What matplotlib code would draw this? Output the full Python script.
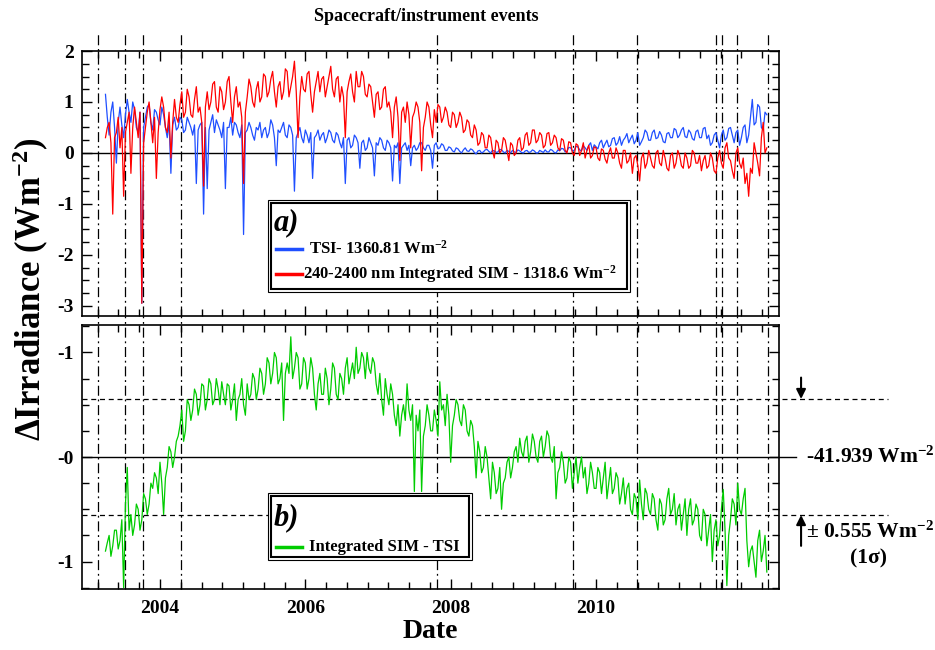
import numpy as np
import matplotlib
matplotlib.use("Agg")
import matplotlib.pyplot as plt
import matplotlib.transforms as mtransforms
from matplotlib.patches import Rectangle
from matplotlib.ticker import MultipleLocator, FixedLocator, FixedFormatter

plt.rcParams['font.family'] = ['Liberation Serif', 'DejaVu Serif']
plt.rcParams['font.weight'] = 'bold'
plt.rcParams['axes.unicode_minus'] = False
plt.rcParams['mathtext.fontset'] = 'custom'
plt.rcParams['mathtext.rm'] = 'Liberation Serif:bold'
plt.rcParams['mathtext.it'] = 'Liberation Serif:bold:italic'
plt.rcParams['mathtext.bf'] = 'Liberation Serif:bold'

# sampling of the series (decimal years)
t_start = 2003.25
t_step = 0.025

# TSI - 1360.81 W/m2
tsi = [1.15, 0.7, 0.35, 0.8, 1.0, 0.5, -0.2, 0.6, 0.9, 0.55, 0.3, 0.75, 1.05, 0.8, 0.6, 1.0, 0.85, 0.5, 0.4, 0.8,
       -2.95, 0.5, 0.7, 0.9, 0.95, 0.6, 0.45, 0.85, 0.8, 0.65, 0.55, 0.9, 0.75, 0.5, 0.3, 0.6, -0.4, 0.55, 0.7, 0.45,
       0.5, 0.7, 0.65, 0.4, 0.45, 0.7, 0.6, 0.5, 0.35, 0.55, -0.6, 0.45, 0.55, 0.6, -1.2, 0.5, -0.7, 0.45, 0.6, 0.75,
       0.4, 0.65, 0.55, 0.45, 0.3, 0.6, -0.7, 0.5, 0.5, 0.7, 0.35, 0.6, 0.55, 0.4, 0.3, 0.55, -1.6, 0.4, 0.45, 0.6,
       0.5, 0.35, 0.25, 0.5, 0.45, 0.6, 0.3, 0.45, 0.5, 0.3, 0.4, 0.65, 0.55, 0.3, -0.25, 0.45, 0.4, 0.5, 0.6, 0.35,
       0.3, 0.55, 0.5, 0.35, -0.75, 0.3, 0.4, 0.5, 0.3, 0.2, 0.45, 0.35, 0.2, 0.4, -0.5, 0.3, 0.35, 0.45, 0.25, 0.35,
       0.4, 0.2, 0.3, 0.45, 0.4, 0.25, 0.2, 0.4, 0.35, 0.2, 0.1, 0.3, -0.6, 0.25, 0.3, 0.1, 0.15, 0.35, 0.3, 0.2,
       -0.3, 0.2, 0.25, 0.05, 0.1, 0.3, 0.2, 0.1, -0.45, 0.2, 0.15, 0.3, 0.25, 0.1, 0.05, 0.25, 0.2, 0.1, -0.55, 0.15,
       0.1, 0.2, -0.6, 0.1, 0.15, 0.2, 0.05, 0.15, -0.25, 0.1, 0.15, 0.05, 0.1, 0.2, 0.2, 0.1, 0.05, 0.15, 0.15, 0.05,
       -0.3, 0.15, 0.2, 0.08, 0.1, 0.18, 0.15, 0.05, 0.05, 0.12, 0.1, 0.04, 0.02, 0.1, 0.08, 0.03, 0.0, 0.06, 0.1, 0.04,
       0.03, 0.08, 0.06, 0.01, -0.02, 0.04, 0.05, 0.0, 0.02, 0.06, 0.07, 0.03, 0.0, 0.05, 0.04, 0.01, 0.02, 0.07, 0.06, 0.02,
       0.0, 0.05, 0.03, 0.0, 0.05, 0.02, 0.01, 0.06, 0.04, 0.01, 0.0, 0.04, 0.05, 0.01, 0.02, 0.06, 0.04, 0.0, 0.0, 0.05,
       0.03, 0.01, 0.06, 0.02, 0.02, 0.07, 0.05, 0.01, 0.0, 0.06, 0.04, 0.09, 0.08, 0.02, 0.03, 0.11, 0.1, 0.04, 0.05, 0.13,
       0.12, 0.06, 0.04, 0.14, 0.1, 0.05, 0.15, 0.2, 0.05, 0.16, 0.12, 0.08, 0.2, 0.25, 0.1, 0.18, 0.25, 0.12, 0.15, 0.28,
       0.3, 0.15, 0.2, 0.32, 0.15, 0.25, 0.3, 0.38, 0.2, 0.28, 0.35, 0.18, 0.25, 0.4, 0.15, 0.22, 0.3, 0.45, 0.4, 0.25,
       0.25, 0.4, 0.45, 0.28, 0.3, 0.42, 0.35, 0.22, 0.2, 0.38, 0.4, 0.3, 0.3, 0.48, 0.45, 0.3, 0.35, 0.45, 0.5, 0.32,
       0.3, 0.45, 0.4, 0.28, 0.25, 0.42, 0.45, 0.3, 0.3, 0.48, 0.5, 0.28, 0.35, 0.15, 0.2, 0.35, 0.4, 0.25, 0.1, 0.35,
       0.45, 0.25, 0.3, 0.48, 0.5, 0.35, 0.2, 0.4, 0.45, 0.15, 0.3, 0.5, 0.55, 0.2, 0.35, 0.7, 1.05, 0.55, 0.6, 0.95,
       0.9, 0.5, 0.45, 0.8, 0.75]

# 240-2400 nm integrated SIM - 1318.6 W/m2
sim = [0.3, 0.5, 0.6, 0.2, -1.2, 0.3, 0.4, 0.7, 0.1, 0.5, -0.85, 0.4, 0.6, 0.8, -0.4, 0.5, 0.9, 0.6, 0.3, 0.8,
       -2.95, 0.2, 0.5, 0.8, 1.0, 0.6, 0.2, 0.7, -0.5, 0.4, 0.85, 1.1, 0.9, 0.5, 0.4, 0.8, -0.1, 0.6, 1.05, 0.7,
       0.6, 0.95, 1.2, 0.7, 0.8, 1.25, 1.1, 0.75, 0.7, 1.05, 1.3, 0.8, 0.9, 0.6, -0.65, 0.9, 1.2, 0.85, 1.0, 1.35,
       1.4, 0.9, 0.8, 1.3, 1.2, 0.85, 1.0, 1.4, 1.5, 1.0, 0.6, 1.1, 1.3, 0.9, 1.0, 0.7, -0.6, 0.8, 1.1, 1.45,
       1.3, 1.0, 0.9, 1.25, 1.4, 1.0, 1.1, 1.55, 1.5, 1.1, 1.2, 1.45, 1.6, 1.2, 0.9, 1.3, 1.4, 1.05, 1.2, 1.65,
       1.6, 1.1, 1.3, 1.5, 1.8, 1.2, 0.3, 1.1, 1.5, 1.25, 1.2, 1.55, 1.6, 1.15, 0.8, 1.2, 1.4, 1.6, 1.2, 1.45,
       1.5, 1.1, 1.3, 1.5, 1.7, 1.25, 1.1, 1.45, 1.5, 1.0, 1.3, 1.1, 0.3, 1.2, 1.4, 1.55, 1.2, 1.0, 1.6, 1.3,
       1.3, 1.6, 1.5, 1.15, 1.1, 1.35, 1.3, 1.0, 0.7, 1.15, 1.2, 0.85, 0.9, 1.25, 1.3, 0.9, 1.0, 0.8, 0.3, 0.9,
       1.1, 0.7, -0.15, 0.8, 0.9, 0.6, 1.0, 0.75, 0.1, 0.7, 0.8, 1.0, 0.9, 0.6, -0.35, 0.5, 0.7, 1.0, 0.9, 0.55,
       0.3, 0.85, 0.6, 0.95, 0.9, 0.6, 0.7, 0.9, 0.8, 0.55, 0.5, 0.8, 0.75, 0.5, 0.6, 0.8, 0.7, 0.4, 0.45, 0.65,
       0.6, 0.35, 0.3, 0.55, 0.45, 0.15, 0.2, 0.4, 0.35, 0.1, 0.1, 0.35, 0.3, 0.05, -0.1, 0.25, 0.2, 0.0, 0.05, 0.3,
       0.25, 0.05, -0.15, 0.2, 0.15, -0.05, 0.0, 0.25, 0.3, 0.05, 0.1, 0.35, 0.4, 0.15, 0.2, 0.45, 0.45, 0.2, 0.25, 0.4,
       0.35, 0.1, 0.15, 0.38, 0.4, 0.15, 0.2, 0.35, 0.3, 0.1, 0.05, 0.28, 0.25, 0.05, 0.0, 0.22, 0.2, 0.0, -0.05, 0.18,
       0.15, -0.05, 0.05, 0.2, -0.1, 0.05, 0.15, -0.1, -0.05, 0.12, 0.1, -0.1, -0.15, 0.08, 0.05, -0.12, -0.2, 0.0, 0.1, -0.1,
       -0.1, 0.1, 0.0, -0.2, -0.3, 0.05, 0.05, -0.2, -0.15, 0.0, -0.4, -0.1, -0.05, -0.25, -0.55, -0.1, 0.0, -0.3, -0.2, 0.05,
       -0.1, -0.25, -0.3, 0.0, 0.05, -0.2, -0.25, 0.05, -0.1, -0.3, -0.35, -0.05, 0.0, -0.3, -0.2, 0.05, -0.05, -0.25, -0.3, 0.0,
       -0.1, -0.3, -0.25, 0.05, 0.0, -0.2, -0.2, -0.05, -0.35, -0.15, -0.05, -0.3, -0.25, 0.0, -0.1, -0.35, -0.4, -0.1, 0.05, -0.2,
       -0.3, 0.1, 0.2, -0.1, -0.15, -0.35, -0.5, 0.0, 0.1, -0.2, -0.3, -0.1, -0.6, -0.4, -0.85, -0.3, -0.4, 0.2, 0.0, -0.2,
       -0.45, 0.3, 0.6, 0.0, 0.1]

# integrated SIM - TSI, relative to -41.939 W/m2
diff = [-0.9, -0.82, -0.75, -0.95, -0.85, -0.7, -0.7, -0.88, -0.8, -0.6, -1.25, -0.45, -0.1, -0.7, -0.55, -0.75, -0.65, -0.45, -0.5, -0.7,
        -0.6, -0.35, -0.4, -0.55, -0.45, -0.25, -0.3, -0.15, -0.2, -0.35, -0.05, -0.25, -0.55, -0.2, -0.1, 0.1, 0.05, -0.1, 0.0, 0.15,
        0.2, 0.3, 0.45, 0.15, 0.25, 0.55, 0.5, 0.35, 0.45, 0.65, 0.6, 0.4, 0.5, 0.7, 0.68, 0.45, 0.55, 0.75, 0.7, 0.5,
        0.55, 0.75, 0.65, 0.5, 0.72, 0.6, 0.5, 0.7, 0.68, 0.45, 0.55, 0.7, 0.35, 0.55, 0.6, 0.75, 0.5, 0.4, 0.7, 0.55,
        0.6, 0.8, 0.75, 0.55, 0.65, 0.85, 0.8, 0.6, 0.7, 0.95, 0.9, 0.7, 0.8, 1.0, 0.95, 0.7, 0.75, 0.9, 0.35, 0.8,
        0.9, 0.8, 1.15, 0.75, 0.85, 1.0, 0.95, 0.65, 0.7, 0.95, 0.9, 0.65, 0.75, 0.95, 0.85, 0.6, 0.45, 0.7, 0.8, 0.6,
        0.6, 0.85, 0.75, 0.5, 0.65, 0.9, 0.85, 0.6, 0.55, 0.8, 0.75, 0.6, 0.85, 0.95, 0.7, 0.8, 0.9, 0.75, 1.05, 0.8,
        0.85, 1.0, 0.95, 0.75, 1.0, 0.85, 0.8, 0.95, 0.9, 0.7, 0.6, 0.8, 0.55, 0.4, 0.75, 0.6, 0.5, 0.7, 0.6, 0.4,
        0.3, 0.5, 0.2, 0.4, 0.5, 0.35, 0.7, 0.45, 0.35, 0.5, -0.33, 0.4, 0.25, 0.45, -0.33, 0.2, 0.3, 0.5, 0.4, 0.25,
        0.25, 0.45, 0.35, 0.2, 0.72, 0.45, 0.5, 0.3, 0.6, 0.4, -0.05, 0.3, 0.4, 0.55, 0.5, 0.35, 0.3, 0.5, 0.45, 0.25,
        0.2, 0.35, 0.3, 0.1, -0.2, 0.15, 0.05, -0.15, -0.1, 0.1, 0.0, -0.2, -0.4, -0.05, -0.15, -0.35, -0.3, -0.1, -0.5, -0.25,
        -0.2, -0.05, 0.0, -0.2, -0.1, 0.05, 0.1, -0.05, 0.18, 0.05, 0.0, 0.15, 0.2, -0.05, 0.05, 0.22, 0.15, 0.0, -0.05, 0.15,
        0.2, 0.0, 0.1, 0.25, 0.2, 0.0, -0.05, 0.1, -0.4, -0.15, -0.1, 0.05, -0.05, -0.25, -0.2, 0.0, -0.05, -0.3, -0.15, 0.0,
        -0.25, -0.1, 0.0, -0.2, -0.1, -0.35, -0.25, -0.05, -0.15, -0.3, -0.3, -0.1, -0.15, -0.35, -0.2, -0.05, -0.4, -0.25, -0.1, -0.35,
        -0.3, -0.15, -0.2, -0.45, -0.35, -0.2, -0.45, -0.3, -0.25, -0.5, -0.55, -0.35, -0.4, -0.6, -0.22, -0.45, -0.6, -0.3, -0.35, -0.5,
        -0.55, -0.35, -0.4, -0.6, -0.7, -0.4, -0.45, -0.65, -0.6, -0.4, -0.3, -0.55, -0.5, -0.35, -0.65, -0.5, -0.45, -0.7, -0.55, -0.4,
        -0.75, -0.5, -0.4, -0.65, -0.6, -0.45, -0.5, -0.75, -0.8, -0.5, -0.55, -0.85, -0.7, -0.55, -1.0, -0.7, -0.6, -0.85, -0.75, -0.5,
        -0.31, -0.7, -1.23, -0.75, -0.6, -0.4, -0.45, -0.65, -0.25, -0.5, -0.55, -0.4, -0.3, -0.8, -1.05, -0.9, -0.85, -1.0, -1.15, -0.8,
        -0.7, -1.0, -0.9, -0.75, -1.1]

# spacecraft / instrument events
events = [2003.15, 2003.52, 2003.77, 2004.29, 2007.81, 2009.68,
          2010.56, 2011.65, 2011.74, 2011.94, 2012.37]

sigma = 0.555
year_ticks = [2004, 2006, 2008, 2010]
top_yticks = [2, 1, 0, -1, -2, -3]
bot_yticks = [1, 0, -1]
bot_ylabels = ['-1', '-0', '-1']

t = t_start + t_step * np.arange(len(tsi))

fig = plt.figure(figsize=(9.35, 6.5), dpi=100)
ax1 = fig.add_axes([0.0877, 0.5138, 0.7455, 0.4077])
ax2 = fig.add_axes([0.0877, 0.0938, 0.7455, 0.4062])

dashdot = (0, (8, 3, 1.5, 3))

# top panel
ax1.axhline(0, color='black', lw=1.0, zorder=2)
for e in events:
    ax1.axvline(e, ymin=0, ymax=1.072, color='black', lw=0.9, ls=dashdot,
                clip_on=False, zorder=2)
ax1.plot(t, tsi, color='#1f4fff', lw=0.9, zorder=3)
ax1.plot(t, sim, color='#ff0000', lw=0.9, zorder=4)
ax1.set_ylim(-3.2, 2.0)
ax1.yaxis.set_major_locator(FixedLocator(top_yticks))
ax1.yaxis.set_minor_locator(MultipleLocator(0.25))

# bottom panel
trans = mtransforms.blended_transform_factory(ax2.transAxes, ax2.transData)
for e in events:
    ax2.axvline(e, ymin=0, ymax=1.034, color='black', lw=0.9, ls=dashdot,
                clip_on=False, zorder=2)
ax2.plot([0, 1.024], [0, 0], color='black', lw=1.0, transform=trans,
         clip_on=False, zorder=2)
for s in (sigma, -sigma):
    ax2.plot([0, 1.156], [s, s], color='black', lw=0.9, ls=(0, (4, 3)),
             transform=trans, clip_on=False, zorder=2)
ax2.plot(t, diff, color='#00cc00', lw=0.9, zorder=3)
ax2.set_ylim(-1.263, 1.263)
ax2.yaxis.set_major_locator(FixedLocator(bot_yticks))
ax2.yaxis.set_major_formatter(FixedFormatter(bot_ylabels))
ax2.yaxis.set_minor_locator(MultipleLocator(0.25))

arrow = dict(arrowstyle='-|>', color='black', lw=1.5, mutation_scale=14,
             shrinkA=0, shrinkB=0)
ax2.annotate('', xy=(1.0316, sigma), xytext=(1.0316, 0.76),
             xycoords=trans, textcoords=trans, arrowprops=arrow)
ax2.annotate('', xy=(1.0316, -sigma), xytext=(1.0316, -0.85),
             xycoords=trans, textcoords=trans, arrowprops=arrow)
ax2.text(1.039, 0.0, r'-41.939 Wm$^{\mathregular{-2}}$', transform=trans,
         fontsize=15.5, ha='left', va='center')
ax2.text(1.039, -0.72, r'$\pm$ 0.555 Wm$^{\mathregular{-2}}$', transform=trans,
         fontsize=15.5, ha='left', va='center')
ax2.text(1.129, -0.97, '(1σ)', transform=trans, fontsize=15.5,
         ha='center', va='center')

for ax in (ax1, ax2):
    ax.set_xlim(2002.927, 2012.518)
    ax.xaxis.set_major_locator(FixedLocator(year_ticks))
    ax.xaxis.set_minor_locator(MultipleLocator(2 / 7))
    ax.tick_params(which='both', direction='in', top=True, right=True,
                   width=1.0, labelsize=14)
    ax.tick_params(which='major', length=7)
    ax.tick_params(which='minor', length=5)
    ax.tick_params(axis='y', pad=6)
    ax.tick_params(axis='x', pad=8)
    for sp in ax.spines.values():
        sp.set_linewidth(1.2)
ax1.tick_params(labelbottom=False)


def legend_box(ax, x0, y0, x1, y1, dx, dy):
    ax.add_patch(Rectangle((x0, y0), x1 - x0, y1 - y0, transform=ax.transAxes,
                           facecolor='white', edgecolor='black', lw=0.8,
                           zorder=10, clip_on=False))
    ax.add_patch(Rectangle((x0 + dx, y0 + dy), x1 - x0 - 2 * dx,
                           y1 - y0 - 2 * dy, transform=ax.transAxes,
                           fill=False, edgecolor='black', lw=1.5, zorder=11,
                           clip_on=False))


# legend a)
legend_box(ax1, 0.267, 0.0906, 0.786, 0.4377, 0.0043, 0.0113)
ax1.text(0.2755, 0.325, 'a)', transform=ax1.transAxes, fontsize=22,
         style='italic', va='baseline', ha='left', zorder=12)
ax1.plot([0.278, 0.316], [0.253, 0.253], color='#1f4fff', lw=2.5,
         transform=ax1.transAxes, zorder=12, clip_on=False)
ax1.text(0.326, 0.253, r'TSI- 1360.81 Wm$^{\mathregular{-2}}$',
         transform=ax1.transAxes, fontsize=12, va='center', zorder=12)
ax1.plot([0.278, 0.316], [0.16, 0.16], color='#ff0000', lw=2.5,
         transform=ax1.transAxes, zorder=12, clip_on=False)
ax1.text(0.317, 0.16, r'240-2400 nm Integrated SIM - 1318.6 Wm$^{\mathregular{-2}}$',
         transform=ax1.transAxes, fontsize=12, va='center', zorder=12)

# legend b)
legend_box(ax2, 0.267, 0.11, 0.560, 0.364, 0.0043, 0.0114)
ax2.text(0.2755, 0.242, 'b)', transform=ax2.transAxes, fontsize=22,
         style='italic', va='baseline', ha='left', zorder=12)
ax2.plot([0.278, 0.316], [0.159, 0.159], color='#00cc00', lw=2.5,
         transform=ax2.transAxes, zorder=12, clip_on=False)
ax2.text(0.326, 0.159, 'Integrated SIM - TSI', transform=ax2.transAxes,
         fontsize=12, va='center', zorder=12)

fig.text(0.4556, 0.974, 'Spacecraft/instrument events', ha='center',
         va='center', fontsize=13)
fig.text(0.46, 0.028, 'Date', ha='center', va='center', fontsize=20)
fig.text(0.033, 0.554, r'$\Delta$Irradiance (Wm$^{\mathregular{-2}}$)',
         rotation=90, ha='center', va='center', fontsize=25)

fig.savefig('out.png', dpi=100)
